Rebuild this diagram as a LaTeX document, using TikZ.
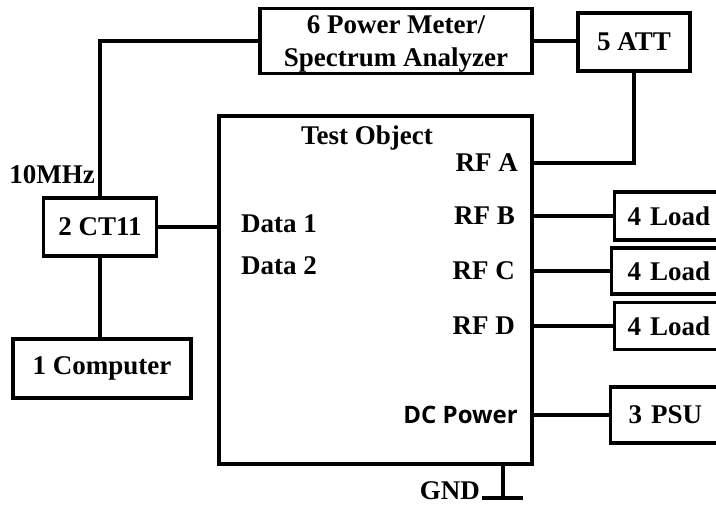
\documentclass[tikz,border=0pt]{standalone}
\usepackage{fontspec}
\setmainfont{Liberation Serif}
\newfontfamily\sansb{Open Sans}
\begin{document}
\begin{tikzpicture}[x=1pt,y=-1pt,
  every node/.style={font=\fontsize{27}{33}\selectfont\bfseries, inner sep=0pt},
  box/.style={draw, line width=3.2pt, align=center},
  wire/.style={line width=3.2pt}]
\clip (0,0) rectangle (716,506);
\fill[white] (0,0) rectangle (716,506);
% boxes
\node[box, minimum width=272, minimum height=65] (pm) at (396,41) {};
\node (pmt) at (396,44) [align=center] {6 Power Meter/\\Spectrum Analyzer};
\node[box, minimum width=112, minimum height=58] (att) at (634,42) {5 ATT};
\node[box, minimum width=313, minimum height=348] (to) at (375.5,290) {};
\node[box, minimum width=113, minimum height=58] (ct) at (100,227) {2 CT11};
\node[box, minimum width=178, minimum height=59] (comp) at (102,368.5) {1 Computer};
\node[box, anchor=west, inner xsep=13pt, text width=92pt, align=left, minimum height=48] (l1) at (613,216) {4 Load};
\node[box, anchor=west, inner xsep=16pt, text width=92pt, align=left, minimum height=46] (l2) at (610,271) {4 Load};
\node[box, anchor=west, inner xsep=13pt, text width=92pt, align=left, minimum height=47] (l3) at (613,326) {4 Load};
\node[box, anchor=west, inner xsep=18pt, text width=92pt, align=left, minimum height=56] (psu) at (609,415) {3 PSU};
% labels
\node (title) at (367,138) {Test Object};
\node[anchor=east] (rfa) at (518,163) {RF A};
\node[anchor=east] (rfb) at (515,216) {RF B};
\node[anchor=east] (rfc) at (515,271) {RF C};
\node[anchor=east] (rfd) at (515,326) {RF D};
\node[anchor=east, font=\sansb\fontsize{24}{28}\selectfont\bfseries] (dc) at (518,415) {DC Power};
\node[anchor=west] (d1) at (241,224) {Data 1};
\node[anchor=west] (d2) at (241,266) {Data 2};
\node (mhz) at (52,175) {10MHz};
\node[anchor=east] (gnd) at (480,491) {GND};
% wires
\draw[wire] (pm.west) -| (ct.north);
\draw[wire] (pm.east) -- (pm.east -| att.west);
\draw[wire] (att.south) |- (to.east |- rfa);
\draw[wire] (to.east |- l1.west) -- (l1.west);
\draw[wire] (to.east |- l2.west) -- (l2.west);
\draw[wire] (to.east |- l3.west) -- (l3.west);
\draw[wire] (to.east |- psu.west) -- (psu.west);
\draw[wire] (ct.east) -- (ct.east -| to.west);
\draw[wire] (ct.south) -- (ct.south |- comp.north);
\coordinate (gtop) at (503,464);
\coordinate (gbot) at (503,498);
\coordinate (gl) at (482,498);
\coordinate (gr) at (523,498);
\draw[wire] (gtop) -- (gbot);
\draw[wire] (gl) -- (gr);
\end{tikzpicture}
\end{document}
